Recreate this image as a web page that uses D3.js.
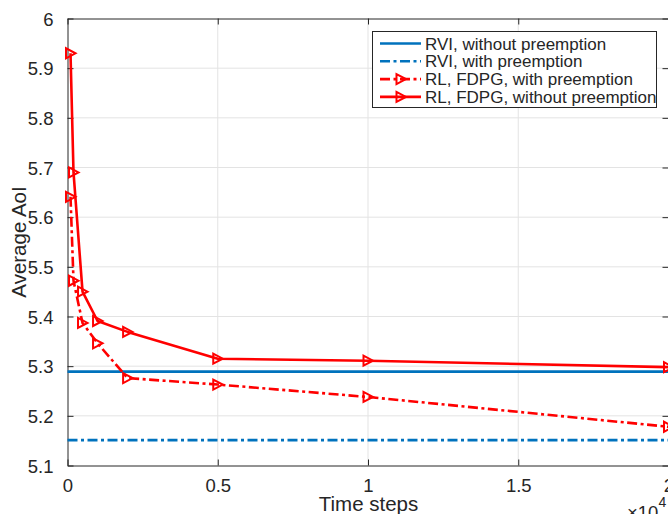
<!DOCTYPE html>
<html>
<head>
<meta charset="utf-8">
<script src="https://cdn.jsdelivr.net/npm/d3@7"></script>
<style>
  html, body { margin: 0; padding: 0; background: #fff; }
  svg { display: block; }
  text { font-family: "Liberation Sans", Arial, Helvetica, sans-serif; fill: #262626; }
</style>
</head>
<body>
<svg id="chart" width="668" height="514"></svg>
<script>
// ---- data (x in units of 10^4 time steps) ----
const timeSteps = [0.01, 0.02, 0.05, 0.1, 0.2, 0.5, 1, 2];
const rlWithoutPreemption = [5.93, 5.69, 5.45, 5.391, 5.369, 5.315, 5.311, 5.298];
const rlWithPreemption    = [5.641, 5.472, 5.387, 5.346, 5.276, 5.263, 5.238, 5.178];
const rviWithoutPreemption = 5.289;
const rviWithPreemption    = 5.151;
const xTicks = [0, 0.5, 1, 1.5, 2];
const xTickLabels = ["0", "0.5", "1", "1.5", "2"];
const yTicks = [5.1, 5.2, 5.3, 5.4, 5.5, 5.6, 5.7, 5.8, 5.9, 6];
const yTickLabels = ["5.1", "5.2", "5.3", "5.4", "5.5", "5.6", "5.7", "5.8", "5.9", "6"];
const legendLabels = ["RVI, without preemption", "RVI, with preemption",
                      "RL, FDPG, with preemption", "RL, FDPG, without preemption"];

// ---- layout ----
const L = 67.5, R = 668.5, T = 18.5, B = 465.5;
const svg = d3.select("#chart");
const x = d3.scaleLinear().domain([0, 2]).range([L, R]);
const y = d3.scaleLinear().domain([5.1, 6]).range([B, T]);

const BLUE = "#0072BD", RED = "#FF0000", AX = "#262626", GRID = "#e3e3e3";
const DASHDOT = "10,3.5,3,3.5";

// grid
const g = svg.append("g");
g.selectAll(".gx").data(xTicks.slice(1, -1)).join("line")
  .attr("x1", d => x(d)).attr("x2", d => x(d)).attr("y1", T).attr("y2", B)
  .attr("stroke", GRID).attr("stroke-width", 1);
g.selectAll(".gy").data(yTicks.slice(1, -1)).join("line")
  .attr("x1", L).attr("x2", R).attr("y1", d => y(d)).attr("y2", d => y(d))
  .attr("stroke", GRID).attr("stroke-width", 1);

// axes (box with inward ticks)
const tickLen = 6;
const axB = svg.append("g").attr("transform", `translate(0,${B})`)
  .call(d3.axisBottom(x).tickValues(xTicks).tickFormat((d, i) => xTickLabels[i]).tickSizeInner(-tickLen).tickSizeOuter(0).tickPadding(13));
const axT = svg.append("g").attr("transform", `translate(0,${T})`)
  .call(d3.axisTop(x).tickValues(xTicks).tickFormat("").tickSizeInner(-tickLen).tickSizeOuter(0));
const axLft = svg.append("g").attr("transform", `translate(${L},0)`)
  .call(d3.axisLeft(y).tickValues(yTicks).tickFormat((d, i) => yTickLabels[i]).tickSizeInner(-tickLen).tickSizeOuter(0).tickPadding(14));
const axRgt = svg.append("g").attr("transform", `translate(${R},0)`)
  .call(d3.axisRight(y).tickValues(yTicks).tickFormat("").tickSizeInner(-tickLen).tickSizeOuter(0));
[axB, axT, axLft, axRgt].forEach(a => {
  a.selectAll("path.domain").attr("stroke", AX).attr("stroke-width", 1);
  a.selectAll(".tick line").attr("stroke", AX).attr("stroke-width", 1);
  a.selectAll(".tick text").style("font-size", "18.5px").attr("fill", AX)
    .style("font-family", '"Liberation Sans", Arial, sans-serif');
});
axB.selectAll(".tick text").attr("dy", "0.71em");
axLft.selectAll(".tick text").attr("dy", "0.36em");

// RVI lines
svg.append("line").attr("x1", L).attr("x2", R)
  .attr("y1", y(rviWithoutPreemption)).attr("y2", y(rviWithoutPreemption))
  .attr("stroke", BLUE).attr("stroke-width", 2.6);
svg.append("line").attr("x1", L).attr("x2", R)
  .attr("y1", y(rviWithPreemption)).attr("y2", y(rviWithPreemption))
  .attr("stroke", BLUE).attr("stroke-width", 2.6).attr("stroke-dasharray", DASHDOT);

// RL lines
const line = d3.line().x(d => x(d[0])).y(d => y(d[1]));
const triPath = "M-4.5,-5L-4.5,5L5,0Z";
function series(vals, dash) {
  const pts = timeSteps.map((t, i) => [t, vals[i]]);
  svg.append("path").datum(pts).attr("d", line).attr("fill", "none")
    .attr("stroke", RED).attr("stroke-width", 2.6)
    .attr("stroke-dasharray", dash || null).attr("stroke-linejoin", "round");
  svg.append("g").selectAll("path").data(pts).join("path")
    .attr("d", triPath)
    .attr("transform", d => `translate(${x(d[0])},${y(d[1])})`)
    .attr("fill", "none").attr("stroke", RED).attr("stroke-width", 2);
}
series(rlWithPreemption, DASHDOT);
series(rlWithoutPreemption, null);

// axis labels
svg.append("text").attr("x", 368.5).attr("y", 510.5).attr("text-anchor", "middle")
  .style("font-size", "20.5px").text("Time steps");
svg.append("text").attr("transform", `translate(26,${(T + B) / 2}) rotate(-90)`)
  .attr("text-anchor", "middle").style("font-size", "20.5px").text("Average AoI");
const mult = svg.append("text").attr("x", 627).attr("y", 519).style("font-size", "18.5px");
mult.append("tspan").text("×10");
mult.append("tspan").attr("dy", -12).style("font-size", "14px").text("4");

// legend
const lg = svg.append("g");
lg.append("rect").attr("x", 372.5).attr("y", 31.5).attr("width", 284).attr("height", 76)
  .attr("fill", "#fff").attr("stroke", AX).attr("stroke-width", 1);
const rows = [
  { color: BLUE, dash: null, marker: false },
  { color: BLUE, dash: DASHDOT, marker: false },
  { color: RED, dash: DASHDOT, marker: true },
  { color: RED, dash: null, marker: true }
];
rows.forEach((r, i) => {
  const cy = 43.5 + i * 17.8;
  lg.append("line").attr("x1", 380).attr("x2", 421).attr("y1", cy).attr("y2", cy)
    .attr("stroke", r.color).attr("stroke-width", 2.6).attr("stroke-dasharray", r.dash);
  if (r.marker) {
    lg.append("path").attr("d", triPath).attr("transform", `translate(401,${cy})`)
      .attr("fill", "none").attr("stroke", r.color).attr("stroke-width", 2);
  }
  lg.append("text").attr("x", 425).attr("y", cy + 6).style("font-size", "17px").text(legendLabels[i]);
});
</script>
</body>
</html>
